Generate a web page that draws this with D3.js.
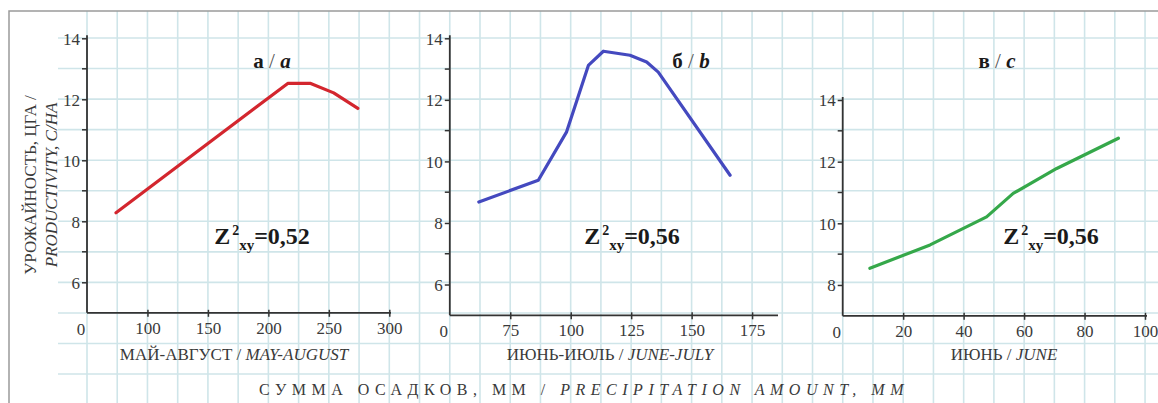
<!doctype html>
<html>
<head>
<meta charset="utf-8">
<title>Urozhainost</title>
<script src="https://d3js.org/d3.v7.min.js"></script>
<style>
  body { margin: 0; background: #fff; }
  svg { display: block; }
  text { font-family: "Liberation Serif", "DejaVu Serif", serif; }
  .tick text { fill: #3a3a3a; font-size: 17px; }
  .grid line { stroke: #cfe5e9; stroke-width: 1.6; }
</style>
</head>
<body>
<svg width="1158" height="403"></svg>
<script>
// panel a: May-August
var precipA = [74, 216, 235, 254, 274];
var yieldA = [8.28, 12.52, 12.52, 12.21, 11.7];
// panel b: June-July
var precipB = [62, 86.6, 98.3, 107.3, 113.5, 124.5, 131.4, 136.2, 165.9];
var yieldB = [8.68, 9.39, 10.96, 13.12, 13.58, 13.45, 13.23, 12.9, 9.55];
// panel c: June
var precipC = [9, 28.9, 47.6, 56.4, 70.8, 91.2];
var yieldC = [8.54, 9.3, 10.21, 10.97, 11.78, 12.76];

var xTicksA = [100, 150, 200, 250, 300];
var xTicksB = [75, 100, 125, 150, 175];
var xTicksC = [20, 40, 60, 80, 100];
var yTicksAB = [6, 8, 10, 12, 14];
var yTicksC = [8, 10, 12, 14];
var rValues = ["0,52", "0,56", "0,56"];

var svg = d3.select("svg");

// background grid paper
var grid = svg.append("g").attr("class", "grid");
var gx = d3.range(0, 36).map(function(i) { return 87 + i * 30.23; });
var gy = d3.range(0, 12).map(function(i) { return 38 + i * 30.55; });
grid.selectAll(".v").data(gx).enter().append("line")
  .attr("x1", function(d) { return d; }).attr("x2", function(d) { return d; })
  .attr("y1", 11).attr("y2", 403);
grid.selectAll(".h").data(gy).enter().append("line")
  .attr("x1", 58).attr("x2", 1158)
  .attr("y1", function(d) { return d; }).attr("y2", function(d) { return d; });

// frame
svg.append("path").attr("d", "M9,403V11H1158")
  .attr("fill", "none").attr("stroke", "#9a9a9a").attr("stroke-width", 1.5);

var panels = [
  { xs: precipA, ys: yieldA, xd: [50, 300], xr: [87, 389.3], yd: [5, 14], yr: [312.8, 38.3],
    xt: xTicksA, yt: yTicksAB, color: "#d3262e", axisEnd: 391,
    title: ["а", "a"], tx: 272, rtx: 262, sub: "МАЙ-АВГУСТ", subEn: "MAY-AUGUST", subX: 234 },
  { xs: precipB, ys: yieldB, xd: [50, 186], xr: [449.8, 778.7], yd: [5, 14], yr: [315.3, 38.3],
    xt: xTicksB, yt: yTicksAB, color: "#4449bf", axisEnd: 778,
    title: ["б", "b"], tx: 691, rtx: 632, sub: "ИЮНЬ-ИЮЛЬ", subEn: "JUNE-JULY", subX: 610 },
  { xs: precipC, ys: yieldC, xd: [0, 100], xr: [842.7, 1145], yd: [7, 14], yr: [315.8, 100],
    xt: xTicksC, yt: yTicksC, color: "#35a84a", axisEnd: 1147,
    title: ["в", "c"], tx: 997, rtx: 1051, sub: "ИЮНЬ", subEn: "JUNE", subX: 1004 }
];

panels.forEach(function(p, pi) {
  var x = d3.scaleLinear().domain(p.xd).range(p.xr);
  var y = d3.scaleLinear().domain(p.yd).range(p.yr);
  var x0 = p.xr[0], y0 = p.yr[0];
  var g = svg.append("g");

  // y axis
  var minor = d3.range(p.yd[0] + 2, p.yd[1], 2);
  g.selectAll(".ym").data(minor).enter().append("line")
    .attr("x1", x0 - 5).attr("x2", x0)
    .attr("y1", function(d) { return y(d); }).attr("y2", function(d) { return y(d); })
    .attr("stroke", "#333").attr("stroke-width", 1.5);
  var ya = g.append("g").attr("transform", "translate(" + x0 + ",0)")
    .call(d3.axisLeft(y).tickValues(p.yt).tickFormat(d3.format("d")).tickSize(5).tickPadding(2));
  ya.select(".domain").attr("d", "M0," + y0 + "V" + (y(p.yd[1]) - 3))
    .attr("stroke", "#333").attr("stroke-width", 1.8);
  ya.selectAll(".tick line").attr("stroke", "#333").attr("stroke-width", 1.5);
  ya.selectAll(".tick text").attr("dy", "0.34em");

  // x axis
  var xa = g.append("g").attr("transform", "translate(0," + y0 + ")")
    .call(d3.axisBottom(x).tickValues(p.xt).tickFormat(d3.format("d")).tickSize(4).tickPadding(5));
  xa.select(".domain").attr("d", "M" + x0 + ",0H" + p.axisEnd)
    .attr("stroke", "#333").attr("stroke-width", 1.8);
  xa.selectAll(".tick line").attr("y1", -3).attr("stroke", "#333").attr("stroke-width", 1.5);
  g.append("text").attr("x", x0 - 6).attr("y", y0 + 22)
    .attr("text-anchor", "middle").attr("fill", "#3a3a3a").attr("font-size", 17).text("0");

  // curve
  var pts = p.xs.map(function(d, i) { return [d, p.ys[i]]; });
  g.append("path").datum(pts)
    .attr("fill", "none").attr("stroke", p.color).attr("stroke-width", 3.2)
    .attr("stroke-linejoin", "round").attr("stroke-linecap", "round")
    .attr("d", d3.line().x(function(d) { return x(d[0]); }).y(function(d) { return y(d[1]); }));

  // panel title
  var t = g.append("text").attr("x", p.tx).attr("y", 68)
    .attr("text-anchor", "middle").attr("font-size", 21).attr("fill", "#1a1a1a");
  t.append("tspan").attr("font-weight", "bold").text(p.title[0]);
  t.append("tspan").attr("fill", "#555").text(" / ");
  t.append("tspan").attr("font-weight", "bold").attr("font-style", "italic").text(p.title[1]);

  // correlation label
  var r = g.append("text").attr("x", p.rtx).attr("y", 244)
    .attr("text-anchor", "middle").attr("font-size", 24).attr("font-weight", "bold").attr("fill", "#1a1a1a");
  r.append("tspan").text("Z");
  r.append("tspan").attr("font-size", 14).attr("dy", -9).attr("dx", 2).text("2");
  r.append("tspan").attr("font-size", 15).attr("dy", 15).text("xy");
  r.append("tspan").attr("dy", -6).text("=" + rValues[pi]);

  // x sub title
  var s = g.append("text").attr("x", p.subX).attr("y", 360)
    .attr("text-anchor", "middle").attr("font-size", 17).attr("fill", "#3a3a3a");
  s.append("tspan").text(p.sub + " / ");
  s.append("tspan").attr("font-style", "italic").text(p.subEn);
});

// y axis title
var yl = svg.append("g").attr("fill", "#3a3a3a").attr("font-size", 17).attr("text-anchor", "middle");
yl.append("text").attr("transform", "translate(36,185) rotate(-90)").text("УРОЖАЙНОСТЬ, ЦГА /");
yl.append("text").attr("transform", "translate(57,185) rotate(-90)")
  .attr("font-style", "italic").text("PRODUCTIVITY, C/HA");

// common x title
var bt = svg.append("text").attr("x", 584).attr("y", 395).attr("text-anchor", "middle")
  .attr("font-size", 16).attr("fill", "#3a3a3a").attr("letter-spacing", "5.5px");
bt.append("tspan").text("СУММА ОСАДКОВ, ММ / ");
bt.append("tspan").attr("font-style", "italic").text("PRECIPITATION AMOUNT, MM");
</script>
</body>
</html>
